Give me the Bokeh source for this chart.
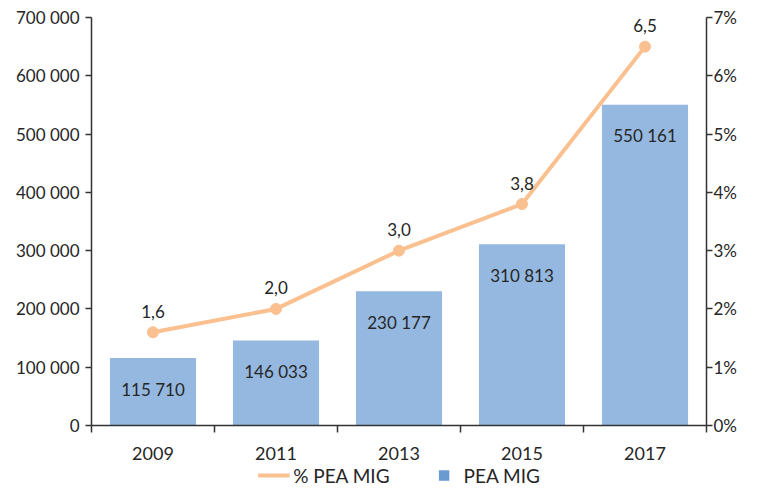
from bokeh.plotting import figure
from bokeh.layouts import column
from bokeh.models import (Range1d, LinearAxis, FixedTicker, ColumnDataSource,
                          Legend, LegendItem)
from bokeh.core.properties import value
from bokeh.embed import file_html
from bokeh.resources import INLINE

# ---- data ----
years = ["2009", "2011", "2013", "2015", "2017"]
pea_mig = [115710, 146033, 230177, 310813, 550161]
pct_pea_mig = [1.6, 2.0, 3.0, 3.8, 6.5]
left_ticks = [0, 100000, 200000, 300000, 400000, 500000, 600000, 700000]
left_tick_labels = ["0", "100 000", "200 000", "300 000", "400 000",
                    "500 000", "600 000", "700 000"]
right_ticks = [0, 1, 2, 3, 4, 5, 6, 7]
right_tick_labels = ["0%", "1%", "2%", "3%", "4%", "5%", "6%", "7%"]
legend_labels = ["% PEA MIG", "PEA MIG"]

FONT = "Lato"
TXT = "#262626"
AX = "#333333"
BAR = "#95b8e0"
BAR_LEG = "#6a9bd0"
LINE = "#fac08f"

xc = [i + 0.5 for i in range(len(years))]
src = ColumnDataSource(dict(
    x=xc, v=pea_mig, p=pct_pea_mig,
    vl=[f"{v:,}".replace(",", " ") for v in pea_mig],
    pl=[f"{v:.1f}".replace(".", ",") for v in pct_pea_mig],
))

p = figure(width=746, height=462, output_backend="svg", toolbar_location=None,
           x_range=Range1d(0, len(years)), y_range=Range1d(0, 700000),
           min_border_left=91, min_border_right=40, min_border_top=17,
           min_border_bottom=10)
p.outline_line_color = None
p.xgrid.visible = False
p.ygrid.visible = False
p.extra_y_ranges = {"pct": Range1d(0, 7)}

# bars
p.vbar(x="x", top="v", width=0.7, source=src, fill_color=BAR, line_color=None)
p.text(x="x", y="v", text="vl", source=src, y_offset=31,
       text_align="center", text_baseline="middle",
       text_font=value(FONT), text_font_size="17px", text_color=TXT)

# line
p.line(x="x", y="p", source=src, y_range_name="pct", line_color=LINE, line_width=4)
p.scatter(x="x", y="p", source=src, y_range_name="pct", size=11,
          fill_color=LINE, line_color=LINE)
p.text(x="x", y="p", text="pl", source=src, y_range_name="pct", y_offset=-21,
       text_align="center", text_baseline="middle",
       text_font=value(FONT), text_font_size="17px", text_color=TXT)

# axes
def style(ax, size="17px"):
    ax.axis_line_color = AX
    ax.axis_line_width = 1.5
    ax.major_tick_line_color = AX
    ax.major_tick_line_width = 1.5
    ax.minor_tick_line_color = AX
    ax.minor_tick_line_width = 1.5
    ax.major_label_text_font = FONT
    ax.major_label_text_font_size = size
    ax.major_label_text_color = TXT

ya = p.yaxis[0]
ya.ticker = FixedTicker(ticks=left_ticks)
ya.major_label_overrides = {t: l for t, l in zip(left_ticks, left_tick_labels)}
ya.major_tick_in = 0
ya.major_tick_out = 6
ya.minor_tick_out = 0
ya.major_label_standoff = 6
style(ya)

ra = LinearAxis(y_range_name="pct", ticker=FixedTicker(ticks=right_ticks))
ra.major_label_overrides = {t: l for t, l in zip(right_ticks, right_tick_labels)}
ra.major_tick_in = 0
ra.major_tick_out = 6
ra.minor_tick_out = 0
ra.major_label_standoff = 1
style(ra)
p.add_layout(ra, "right")

xa = p.xaxis[0]
xa.ticker = FixedTicker(ticks=xc, minor_ticks=list(range(len(years) + 1)))
xa.major_label_overrides = {x: y for x, y in zip(xc, years)}
xa.major_tick_in = 0
xa.major_tick_out = 0
xa.minor_tick_in = 0
xa.minor_tick_out = 7
xa.major_label_standoff = 14
style(xa, "18px")

# legend in a small strip figure below
lf = figure(width=746, height=26, output_backend="svg", toolbar_location=None,
            x_range=Range1d(0, 1), y_range=Range1d(0, 1),
            min_border=0, x_axis_location=None, y_axis_location=None)
lf.outline_line_color = None
lf.xgrid.visible = False
lf.ygrid.visible = False
dummy = ColumnDataSource(dict(x=[-5, -4], y=[-5, -4]))
lr = lf.line(x="x", y="y", source=dummy, line_color=LINE, line_width=4)
sr = lf.scatter(x="x", y="y", source=dummy, marker="square", size=12,
                fill_color=BAR_LEG, line_color=None)
lg = Legend(items=[LegendItem(label=legend_labels[0], renderers=[lr]),
                   LegendItem(label=legend_labels[1], renderers=[sr])],
            location="center", orientation="horizontal",
            border_line_color=None, background_fill_alpha=0,
            padding=0, margin=0, spacing=38,
            glyph_width=32, glyph_height=26, label_standoff=4,
            label_text_font=FONT, label_text_font_size="19px",
            label_text_color=TXT)
lf.add_layout(lg, "center")

open("out.html", "w").write(file_html(column(p, lf, spacing=0), INLINE))
